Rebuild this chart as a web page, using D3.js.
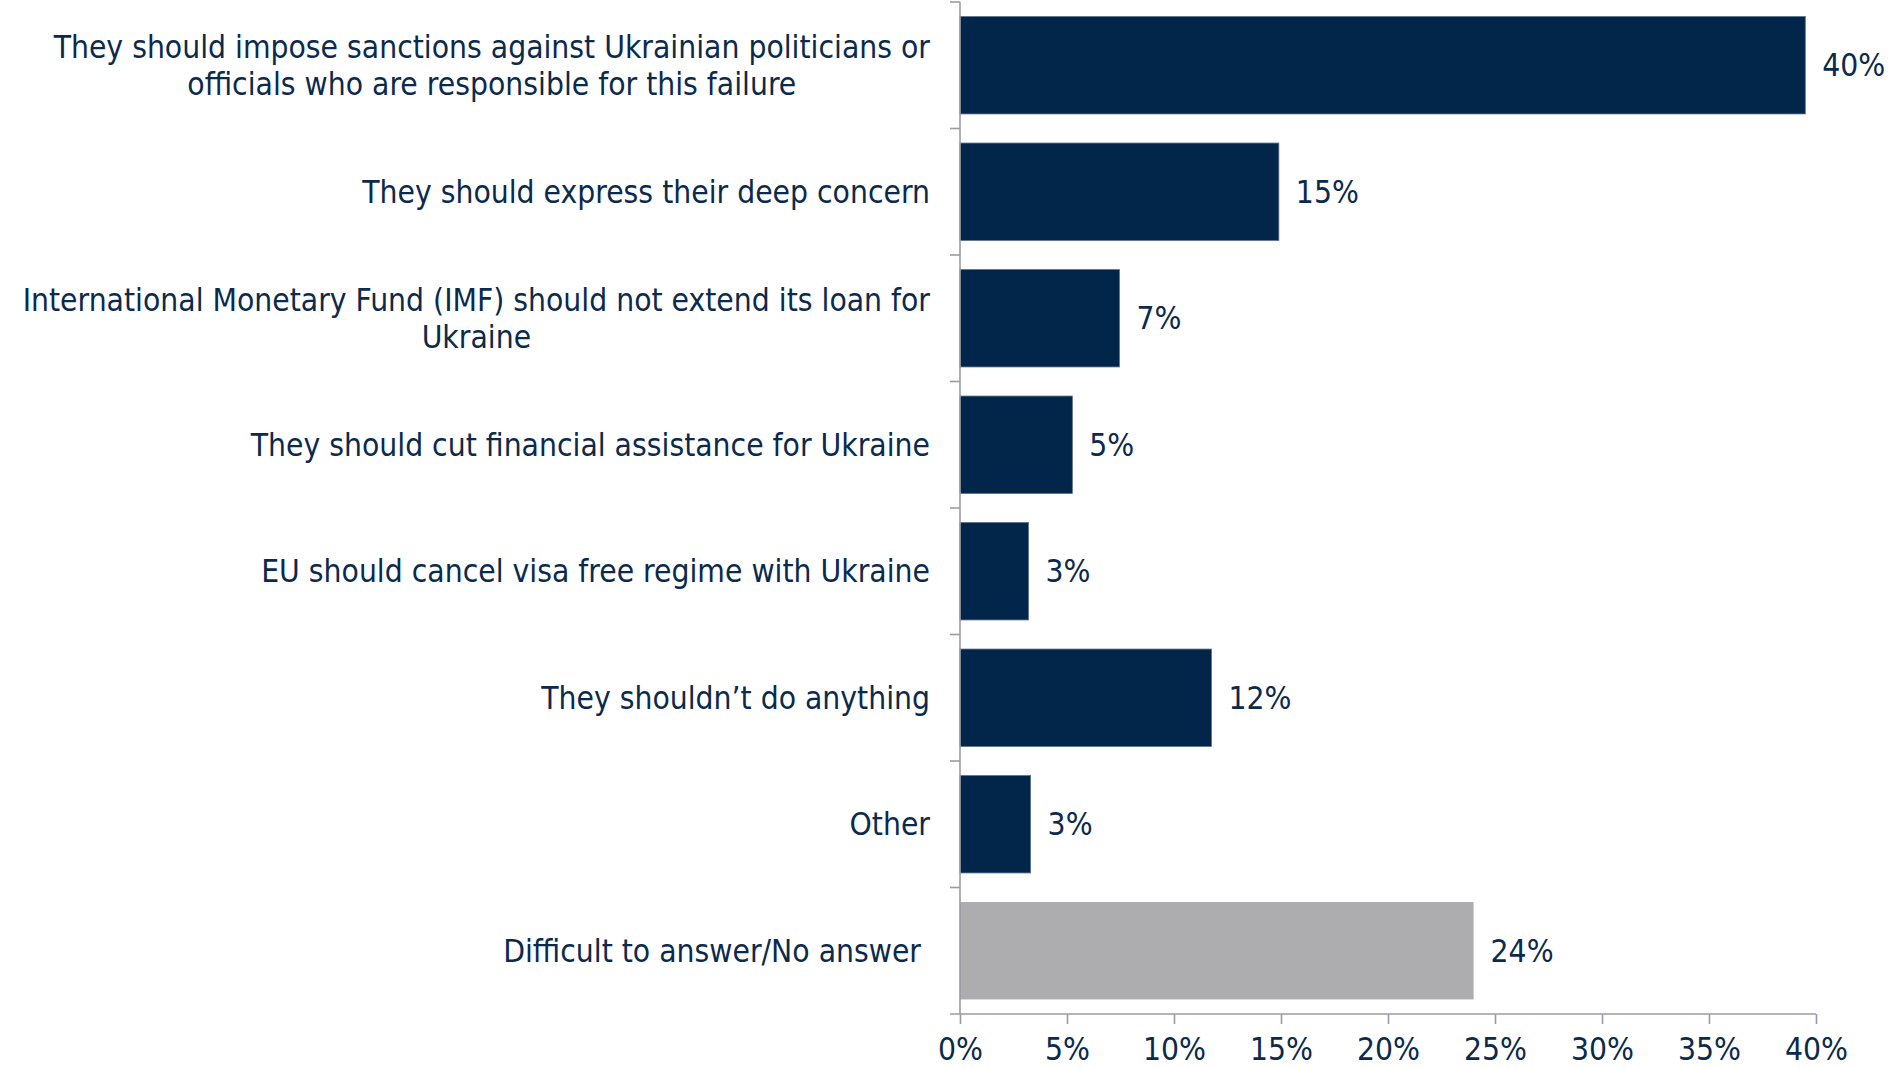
<!DOCTYPE html>
<html>
<head>
<meta charset="utf-8">
<script src="https://cdn.jsdelivr.net/npm/d3@7"></script>
<style>
  html, body { margin: 0; padding: 0; background: #ffffff; }
  svg { display: block; }
  text { font-family: "DejaVu Sans Condensed", "DejaVu Sans", sans-serif; fill: #0c2a4c; white-space: pre; }
</style>
</head>
<body>
<svg id="chart" width="1888" height="1068"></svg>
<script>
const categories = [
  ["They should impose sanctions against Ukrainian politicians or", "officials who are responsible for this failure"],
  ["They should express their deep concern"],
  ["International Monetary Fund (IMF) should not extend its loan for", "Ukraine"],
  ["They should cut financial assistance for Ukraine"],
  ["EU should cancel visa free regime with Ukraine"],
  ["They shouldn\u2019t do anything"],
  ["Other"],
  ["Difficult to answer/No answer "]
];
const values = [39.5, 14.9, 7.45, 5.25, 3.2, 11.75, 3.3, 24.0];
const valueLabels = ["40%", "15%", "7%", "5%", "3%", "12%", "3%", "24%"];
const highlight = [false, false, false, false, false, false, false, true];
const xTicks = [0, 5, 10, 15, 20, 25, 30, 35, 40];
const xTickLabels = ["0%", "5%", "10%", "15%", "20%", "25%", "30%", "35%", "40%"];

const svg = d3.select("#chart");
const axisColor = "#9b9ba6";
const barColor = "#012649";
const grayColor = "#adadaf";
const fontSize = 31.5;

const x = d3.scaleLinear().domain([0, 40]).range([960, 1816]);
const y = d3.scaleBand().domain(d3.range(categories.length)).range([2, 1014]).paddingInner(0.23).paddingOuter(0.115);
const step = y.step();

// bars
svg.append("g").selectAll("rect").data(values).join("rect")
  .attr("x", x(0))
  .attr("y", (d, i) => y(i))
  .attr("width", d => x(d) - x(0))
  .attr("height", y.bandwidth())
  .attr("fill", (d, i) => highlight[i] ? grayColor : barColor)
  .attr("stroke", (d, i) => highlight[i] ? "none" : "#5a6f8a")
  .attr("stroke-width", 0.8);

// value labels
svg.append("g").selectAll("text").data(values).join("text")
  .attr("x", d => x(d) + 17)
  .attr("y", (d, i) => y(i) + y.bandwidth() / 2)
  .attr("dominant-baseline", "central")
  .attr("font-size", fontSize)
  .text((d, i) => valueLabels[i]);

// y axis line and ticks at band boundaries
const yAxisG = svg.append("g");
yAxisG.append("line")
  .attr("x1", x(0)).attr("x2", x(0))
  .attr("y1", 2).attr("y2", 1014)
  .attr("stroke", axisColor).attr("stroke-width", 1.6);
yAxisG.selectAll("line.tick").data(d3.range(categories.length)).join("line")
  .attr("class", "tick")
  .attr("x1", x(0) - 10).attr("x2", x(0))
  .attr("y1", i => 2 + i * step).attr("y2", i => 2 + i * step)
  .attr("stroke", axisColor).attr("stroke-width", 1.6);

// category labels (centered block, right-aligned to axis)
const labelRight = 930;
const lineH = 37;
const labelG = svg.append("g");
categories.forEach((lines, i) => {
  const cy = y(i) + y.bandwidth() / 2;
  const g = labelG.append("g");
  const texts = lines.map((t, k) => g.append("text")
    .attr("font-size", fontSize)
    .attr("text-anchor", "middle")
    .attr("dominant-baseline", "central")
    .attr("y", cy + (k - (lines.length - 1) / 2) * lineH)
    .text(t));
  const w = d3.max(texts, t => t.node().getComputedTextLength());
  texts.forEach(t => t.attr("x", labelRight - w / 2));
});

// x axis
const xAxis = d3.axisBottom(x).tickValues(xTicks).tickSize(10).tickPadding(14)
  .tickFormat((d, i) => xTickLabels[i]);
const xg = svg.append("g").attr("transform", "translate(0,1014)").call(xAxis);
xg.select(".domain").remove();
xg.append("line").attr("x1", 950).attr("x2", x(40)).attr("y1", 0).attr("y2", 0)
  .attr("stroke", axisColor).attr("stroke-width", 1.6);
xg.selectAll(".tick line").attr("stroke", axisColor).attr("stroke-width", 1.6);
xg.selectAll(".tick text")
  .attr("font-size", fontSize)
  .attr("font-family", "DejaVu Sans Condensed, DejaVu Sans, sans-serif")
  .attr("fill", "#0c2a4c");
</script>
</body>
</html>
